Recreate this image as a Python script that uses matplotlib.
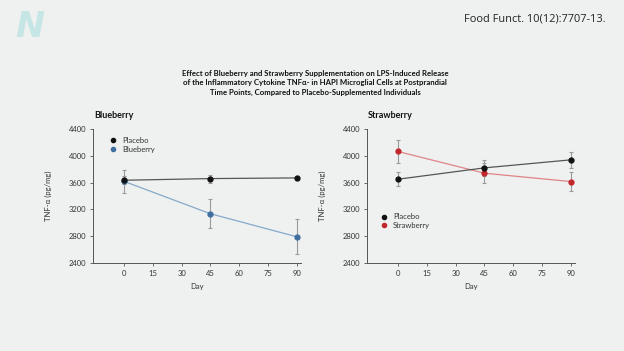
import matplotlib
matplotlib.use("Agg")
import matplotlib.pyplot as plt
from matplotlib.lines import Line2D

days = [0, 45, 90]
bb_placebo = [3635, 3660, 3670]
bb_placebo_err = [60, 60, 30]
blueberry = [3620, 3135, 2790]
blueberry_err = [170, 220, 260]
sb_placebo = [3650, 3820, 3940]
sb_placebo_err = [105, 120, 120]
strawberry = [4065, 3740, 3615]
strawberry_err = [165, 150, 140]
xticks = [0, 15, 30, 45, 60, 75, 90]
yticks = [2400, 2800, 3200, 3600, 4000, 4400]

plt.rcParams['font.family'] = ['Lato', 'DejaVu Sans']
W, H = 624, 351
fig = plt.figure(figsize=(W/100, H/100), dpi=100)
fig.patch.set_facecolor('#eff1f0')

def box(x0, y0, x1, y1):
    return [x0/W, 1-y1/H, (x1-x0)/W, (y1-y0)/H]

# logo
fig.text(30/W, 1-27/H, 'N', fontsize=25, fontweight='bold', style='italic',
         color='#c6e6e5', ha='center', va='center', family='DejaVu Sans')
fig.text(606/W, 1-19/H, 'Food Funct. 10(12):7707-13.', fontsize=7.9,
         color='#222222', ha='right', va='center', family='Open Sans')

title = ("Effect of Blueberry and Strawberry Supplementation on LPS-Induced Release\n"
         "of the Inflammatory Cytokine TNF\u03b1- in HAPI Microglial Cells at Postprandial\n"
         "Time Points, Compared to Placebo-Supplemented Individuals")
fig.text(315/W, 1-83/H, title, fontsize=5.6, fontweight='bold', ha='center',
         va='center', linespacing=1.45, color='#111111')

def series(ax, vals, errs, mcol, lcol):
    ax.plot(days, vals, color=lcol, lw=0.9, zorder=2)
    ax.errorbar(days, vals, yerr=errs, fmt='o', color=mcol, ecolor='#9a9a9a',
                elinewidth=0.8, capsize=1.5, capthick=0.8, markersize=3.5, zorder=3)

def panel(rect, name, ser1, err1, ser2, err2, c2, lc2, label2, leg_loc):
    ax = fig.add_axes(rect)
    ax.set_facecolor('none')
    series(ax, ser2, err2, c2, lc2)
    series(ax, ser1, err1, '#111111', '#555555')
    ax.set_xlim(-16, 92)
    ax.set_ylim(2400, 4400)
    ax.set_xticks(xticks)
    ax.set_yticks(yticks)
    for s in ['top', 'right']:
        ax.spines[s].set_visible(False)
    for s in ['left', 'bottom']:
        ax.spines[s].set_color('#555555')
        ax.spines[s].set_linewidth(0.7)
    ax.tick_params(labelsize=5.5, length=2, width=0.6, colors='#555555',
                   labelcolor='#333333', pad=3)
    ax.set_xlabel('Day', fontsize=5.5, color='#333333', labelpad=4)
    ax.set_ylabel('TNF-\u03b1 (pg/mg)', fontsize=5.5, color='#333333', labelpad=12)
    ax.set_title(name, fontsize=6.5, fontweight='bold', loc='left', x=0.005,
                 pad=8, color='#111111')
    handles = [Line2D([], [], marker='o', ls='none', color='#111111', markersize=3),
               Line2D([], [], marker='o', ls='none', color=c2, markersize=3)]
    leg = ax.legend(handles, ['Placebo', label2], loc=leg_loc, fontsize=5.5,
                    frameon=False, handlelength=0.6, handletextpad=0.9,
                    labelspacing=0.25)
    for t in leg.get_texts():
        t.set_color('#333333')
    return ax

panel(box(93, 129, 301, 263), 'Blueberry', bb_placebo, bb_placebo_err,
      blueberry, blueberry_err, '#3e6f9e', '#86a9cb', 'Blueberry', (0.07, 0.8))
panel(box(367, 129, 575, 263), 'Strawberry', sb_placebo, sb_placebo_err,
      strawberry, strawberry_err, '#c0282c', '#df8587', 'Strawberry', (0.055, 0.23))

fig.savefig('out.png', dpi=100, facecolor=fig.get_facecolor())
